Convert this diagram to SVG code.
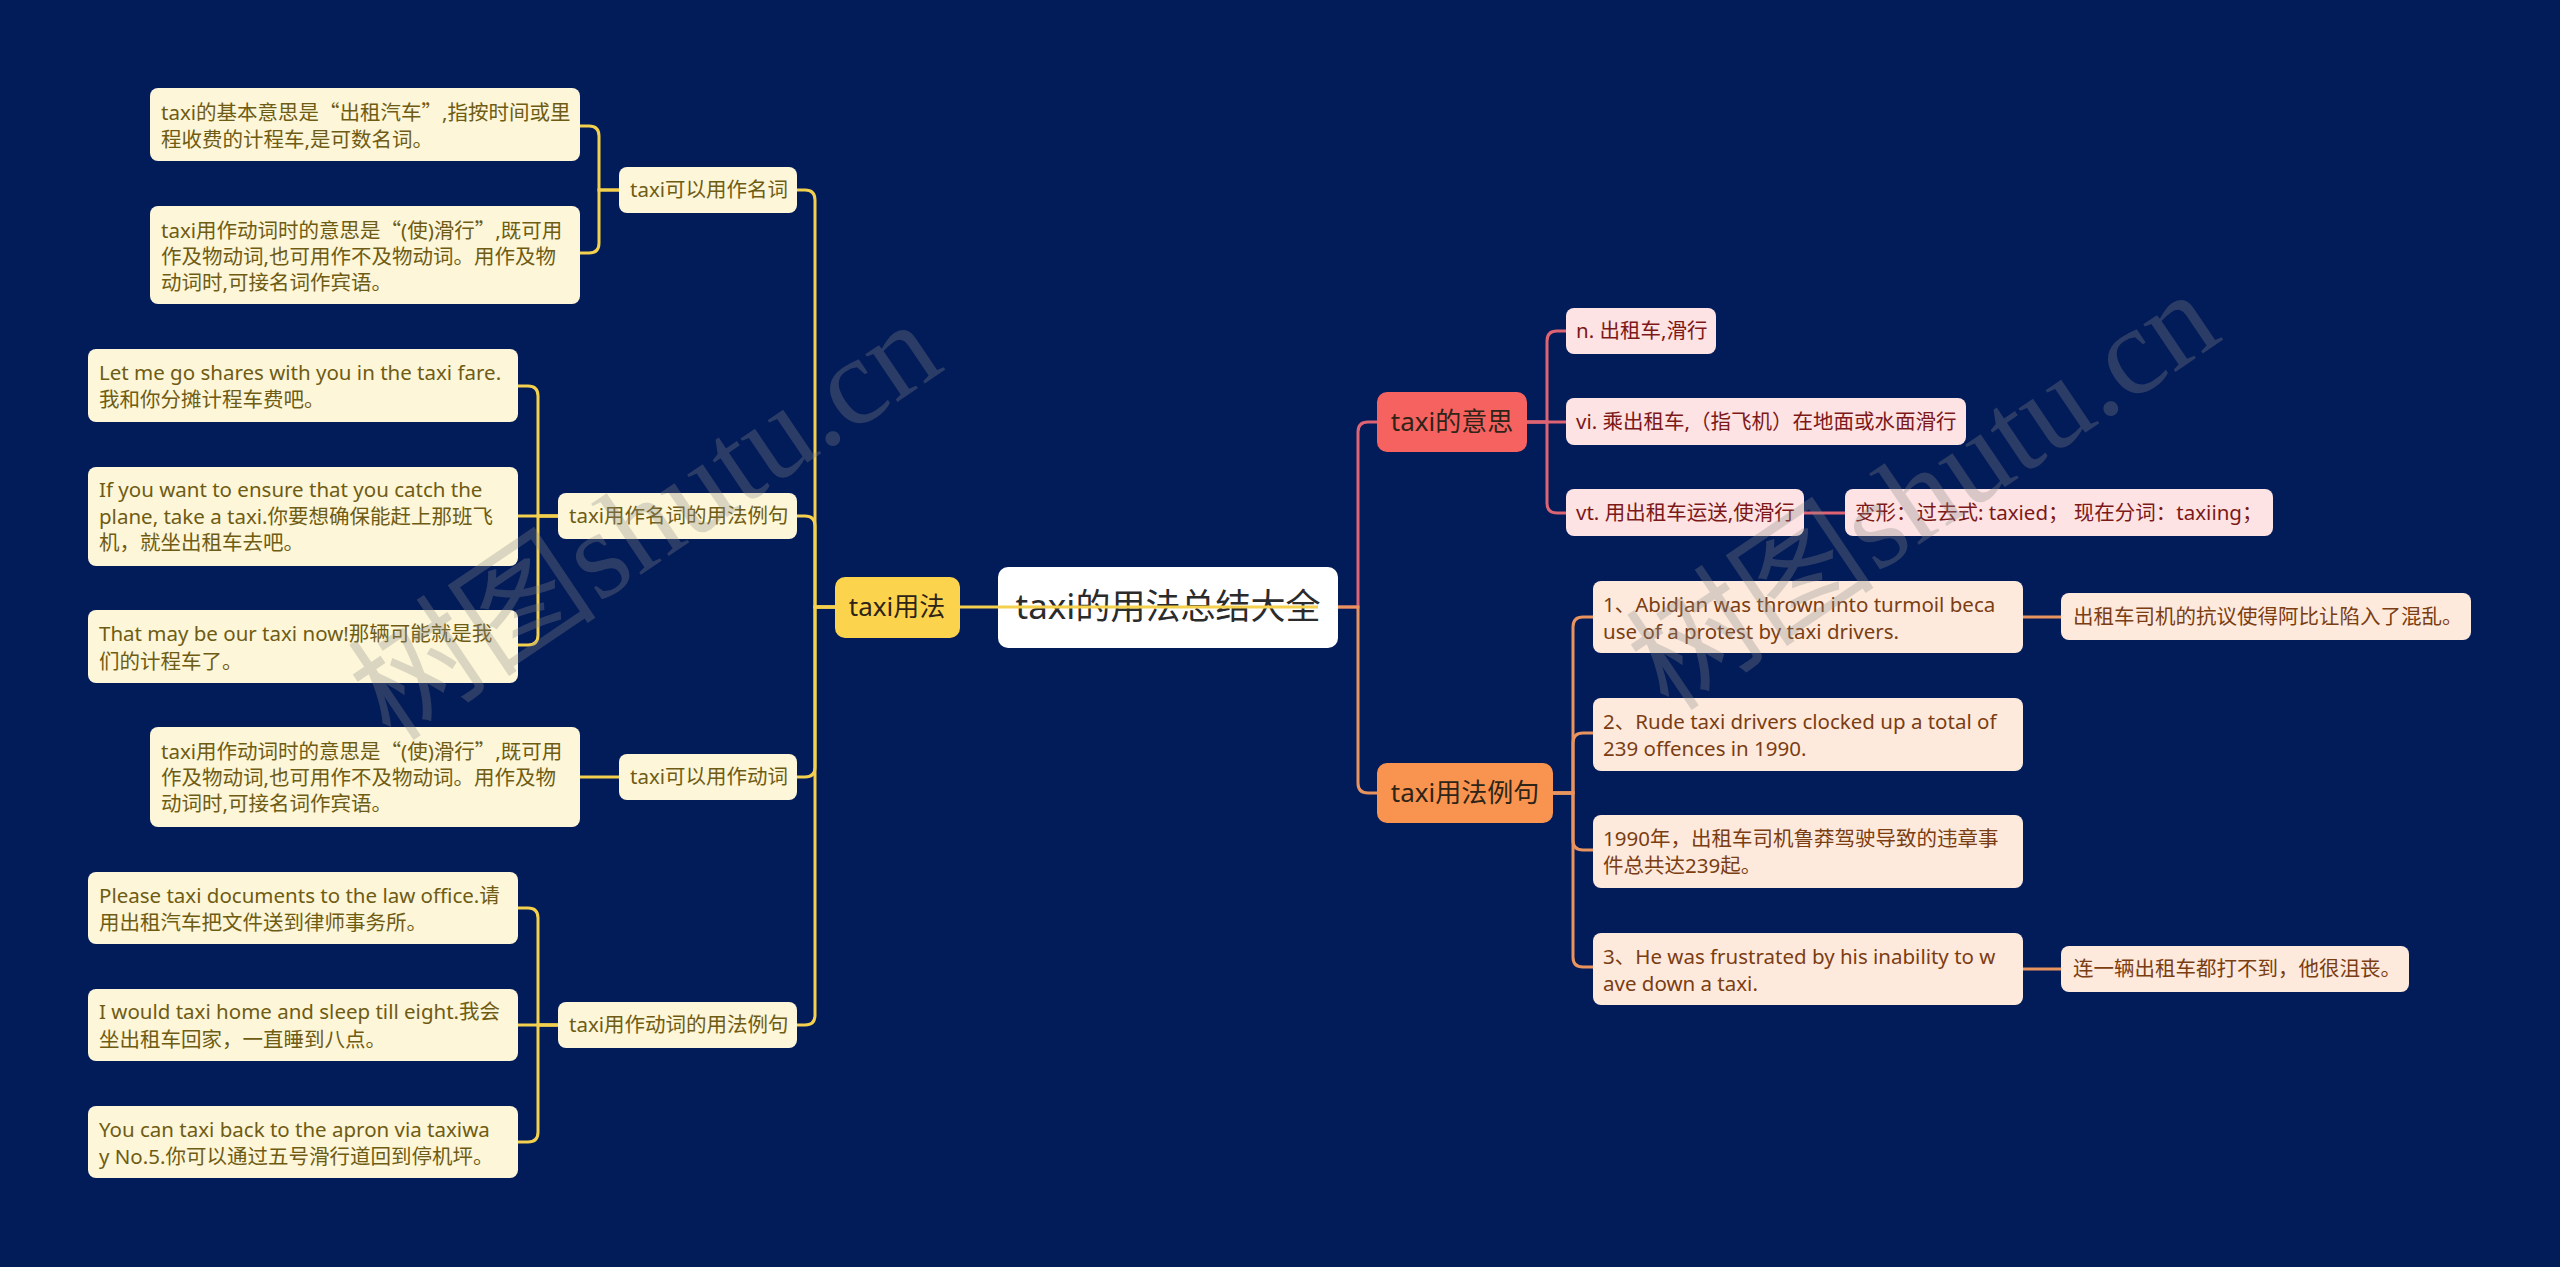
<svg xmlns="http://www.w3.org/2000/svg" width="2560" height="1267" viewBox="0 0 2560 1267">
<style>
text{font-family:"Noto Sans","Noto Sans CJK SC",sans-serif;font-size:20.5px}
.q{font-family:"Noto Sans CJK SC",sans-serif}
.ny{fill:#fdf6d8}
.ty{fill:#6f5c14}
.nr{fill:#fde3e3}
.tr{fill:#7c1818}
.no{fill:#fdeadd}
.to{fill:#7b3d12}
.l1{font-size:26px;fill:#2e2418;text-anchor:middle}
.cy{fill:none;stroke:#f3d04e;stroke-width:3}
.cr{fill:none;stroke:#de6473;stroke-width:3}
.co{fill:none;stroke:#e9935f;stroke-width:3}
.wm{font-family:"Liberation Serif","Noto Sans CJK SC",serif;font-size:125px;fill:#8a8a8a;opacity:.3;text-anchor:middle}
</style>
<rect x="0" y="0" width="2560" height="1267" fill="#021b59"/>
<g id="nodes">
<g id="root"><rect x="998" y="567" width="340" height="81" rx="10" fill="#ffffff"/><text x="1168" y="619" style="font-size:35px;fill:#2b2b2b;text-anchor:middle">taxi的用法总结大全</text></g>

<g id="n-usage"><rect x="835" y="577" width="125" height="61" rx="10" fill="#fcd34c"/><text class="l1" x="897" y="616">taxi用法</text></g>
<g id="n-noun"><rect class="ny" x="619" y="167" width="178" height="46" rx="8"/><text class="ty" x="630" y="197">taxi可以用作名词</text></g>
<g id="n-noun-1"><rect class="ny" x="150" y="88" width="430" height="73" rx="8"/><text class="ty"><tspan x="161" y="120">taxi的基本意思是<tspan class="q">“</tspan>出租汽车<tspan class="q">”</tspan>,指按时间或里</tspan><tspan x="161" y="147">程收费的计程车,是可数名词。</tspan></text></g>
<g id="n-noun-2"><rect class="ny" x="150" y="206" width="430" height="98" rx="8"/><text class="ty"><tspan x="161" y="238">taxi用作动词时的意思是<tspan class="q">“</tspan>(使)滑行<tspan class="q">”</tspan>,既可用</tspan><tspan x="161" y="264">作及物动词,也可用作不及物动词。用作及物</tspan><tspan x="161" y="290">动词时,可接名词作宾语。</tspan></text></g>
<g id="n-nounex"><rect class="ny" x="558" y="493" width="239" height="46" rx="8"/><text class="ty" x="569" y="523">taxi用作名词的用法例句</text></g>
<g id="n-nounex-1"><rect class="ny" x="88" y="349" width="430" height="73" rx="8"/><text class="ty"><tspan x="99" y="380">Let me go shares with you in the taxi fare.</tspan><tspan x="99" y="407">我和你分摊计程车费吧。</tspan></text></g>
<g id="n-nounex-2"><rect class="ny" x="88" y="467" width="430" height="99" rx="8"/><text class="ty"><tspan x="99" y="497">If you want to ensure that you catch the</tspan><tspan x="99" y="524">plane, take a taxi.你要想确保能赶上那班飞</tspan><tspan x="99" y="550">机，就坐出租车去吧。</tspan></text></g>
<g id="n-nounex-3"><rect class="ny" x="88" y="610" width="430" height="73" rx="8"/><text class="ty"><tspan x="99" y="641">That may be our taxi now!那辆可能就是我</tspan><tspan x="99" y="669">们的计程车了。</tspan></text></g>
<g id="n-verb"><rect class="ny" x="619" y="754" width="178" height="46" rx="8"/><text class="ty" x="630" y="784">taxi可以用作动词</text></g>
<g id="n-verb-1"><rect class="ny" x="150" y="727" width="430" height="100" rx="8"/><text class="ty"><tspan x="161" y="759">taxi用作动词时的意思是<tspan class="q">“</tspan>(使)滑行<tspan class="q">”</tspan>,既可用</tspan><tspan x="161" y="785">作及物动词,也可用作不及物动词。用作及物</tspan><tspan x="161" y="811">动词时,可接名词作宾语。</tspan></text></g>
<g id="n-verbex"><rect class="ny" x="558" y="1002" width="239" height="46" rx="8"/><text class="ty" x="569" y="1032">taxi用作动词的用法例句</text></g>
<g id="n-verbex-1"><rect class="ny" x="88" y="872" width="430" height="72" rx="8"/><text class="ty"><tspan x="99" y="903">Please taxi documents to the law office.请</tspan><tspan x="99" y="930">用出租汽车把文件送到律师事务所。</tspan></text></g>
<g id="n-verbex-2"><rect class="ny" x="88" y="989" width="430" height="72" rx="8"/><text class="ty"><tspan x="99" y="1019">I would taxi home and sleep till eight.我会</tspan><tspan x="99" y="1047">坐出租车回家，一直睡到八点。</tspan></text></g>
<g id="n-verbex-3"><rect class="ny" x="88" y="1106" width="430" height="72" rx="8"/><text class="ty"><tspan x="99" y="1137">You can taxi back to the apron via taxiwa</tspan><tspan x="99" y="1164">y No.5.你可以通过五号滑行道回到停机坪。</tspan></text></g>

<g id="n-meaning"><rect x="1377" y="392" width="150" height="60" rx="10" fill="#f66260"/><text class="l1" x="1452" y="431">taxi的意思</text></g>
<g id="n-meaning-n"><rect class="nr" x="1566" y="308" width="150" height="46" rx="8"/><text class="tr" x="1576" y="338">n. 出租车,滑行</text></g>
<g id="n-meaning-vi"><rect class="nr" x="1566" y="398" width="400" height="47" rx="8"/><text class="tr" x="1576" y="429">vi. 乘出租车,（指飞机）在地面或水面滑行</text></g>
<g id="n-meaning-vt"><rect class="nr" x="1566" y="489" width="238" height="47" rx="8"/><text class="tr" x="1576" y="520">vt. 用出租车运送,使滑行</text></g>
<g id="n-forms"><rect class="nr" x="1845" y="489" width="428" height="47" rx="8"/><text class="tr" x="1855" y="520">变形：过去式: taxied； 现在分词：taxiing；</text></g>

<g id="n-examples"><rect x="1377" y="763" width="176" height="60" rx="10" fill="#f8944f"/><text class="l1" x="1465" y="802">taxi用法例句</text></g>
<g id="n-ex-1"><rect class="no" x="1593" y="581" width="430" height="72" rx="8"/><text class="to"><tspan x="1603" y="612">1、Abidjan was thrown into turmoil beca</tspan><tspan x="1603" y="639">use of a protest by taxi drivers.</tspan></text></g>
<g id="n-ex-1-cn"><rect class="no" x="2061" y="593" width="410" height="47" rx="8"/><text class="to" x="2073" y="624">出租车司机的抗议使得阿比让陷入了混乱。</text></g>
<g id="n-ex-2"><rect class="no" x="1593" y="698" width="430" height="73" rx="8"/><text class="to"><tspan x="1603" y="729">2、Rude taxi drivers clocked up a total of</tspan><tspan x="1603" y="756">239 offences in 1990.</tspan></text></g>
<g id="n-ex-3"><rect class="no" x="1593" y="815" width="430" height="73" rx="8"/><text class="to"><tspan x="1603" y="846">1990年，出租车司机鲁莽驾驶导致的违章事</tspan><tspan x="1603" y="873">件总共达239起。</tspan></text></g>
<g id="n-ex-4"><rect class="no" x="1593" y="933" width="430" height="72" rx="8"/><text class="to"><tspan x="1603" y="964">3、He was frustrated by his inability to w</tspan><tspan x="1603" y="991">ave down a taxi.</tspan></text></g>
<g id="n-ex-4-cn"><rect class="no" x="2061" y="946" width="348" height="46" rx="8"/><text class="to" x="2073" y="976">连一辆出租车都打不到，他很沮丧。</text></g>
</g>

<g id="connectors">
<path class="cy" d="M1318,607 H960"/>
<path class="cy" d="M835,607 H815 V200 Q815,190 805,190 H797"/>
<path class="cy" d="M835,607 H815 V526 Q815,516 805,516 H797"/>
<path class="cy" d="M835,607 H815 V767 Q815,777 805,777 H797"/>
<path class="cy" d="M835,607 H815 V1015 Q815,1025 805,1025 H797"/>
<path class="cy" d="M619,190 H599 V136 Q599,126 589,126 H580"/>
<path class="cy" d="M619,190 H599 V243 Q599,253 589,253 H580"/>
<path class="cy" d="M558,516 H538 V396 Q538,386 528,386 H518"/>
<path class="cy" d="M558,516 H518"/>
<path class="cy" d="M558,516 H538 V635 Q538,645 528,645 H518"/>
<path class="cy" d="M619,777 H580"/>
<path class="cy" d="M558,1025 H538 V918 Q538,908 528,908 H518"/>
<path class="cy" d="M558,1025 H518"/>
<path class="cy" d="M558,1025 H538 V1132 Q538,1142 528,1142 H518"/>
<path class="cr" d="M1338,607 H1358 V432 Q1358,422 1368,422 H1377"/>
<path class="co" d="M1338,607 H1358 V783 Q1358,793 1368,793 H1377"/>
<path class="cr" d="M1527,422 H1547 V341 Q1547,331 1557,331 H1566"/>
<path class="cr" d="M1527,422 H1566"/>
<path class="cr" d="M1527,422 H1547 V503 Q1547,513 1557,513 H1566"/>
<path class="cr" d="M1804,513 H1845"/>
<path class="co" d="M1553,793 H1573 V627 Q1573,617 1583,617 H1593"/>
<path class="co" d="M1553,793 H1573 V743 Q1573,733 1583,733 H1593"/>
<path class="co" d="M1553,793 H1573 V840 Q1573,850 1583,850 H1593"/>
<path class="co" d="M1553,793 H1573 V957 Q1573,967 1583,967 H1593"/>
<path class="co" d="M2023,617 H2061"/>
<path class="co" d="M2023,969 H2061"/>
</g>

<g id="watermarks">
<text class="wm" transform="translate(669,556) rotate(-34)">树图shutu.cn</text>
<text class="wm" transform="translate(1947,526) rotate(-34)">树图shutu.cn</text>
</g>
</svg>
